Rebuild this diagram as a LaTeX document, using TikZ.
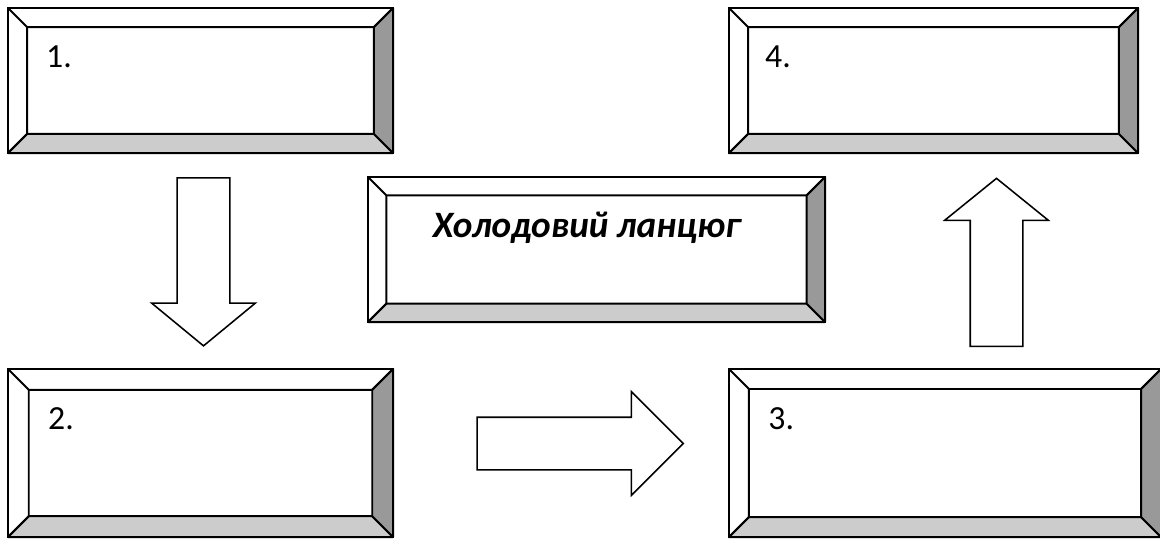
\documentclass[tikz,border=0pt]{standalone}
\usepackage{fontspec}
\setmainfont{Carlito}
\usetikzlibrary{shapes.arrows,calc}
\definecolor{bevlight}{HTML}{CCCCCC}
\definecolor{bevdark}{HTML}{999999}
\begin{document}
\begin{tikzpicture}
[x=0.025cm,y=-0.025cm,
panel/.style={draw,fill=white,line width=1.4pt,inner sep=0pt,outer sep=0pt},
num/.style={anchor=base west,inner sep=0pt,font=\fontsize{24}{28}\selectfont},
blockarrow/.style={draw,fill=white,line width=1.1pt,single arrow,inner xsep=0pt,
  inner ysep=0.6375cm,single arrow head extend=0.6375cm,minimum width=0pt}]
\useasboundingbox (0,0) rectangle (1160,541);
\node[panel,minimum width=9.625cm,minimum height=3.625cm] (p1) at (200.5,80.5) {};
\node[panel,minimum width=9.625cm,minimum height=4.2cm] (p2) at (200.5,453) {};
\node[panel,minimum width=10.8cm,minimum height=4.2cm] (p3) at (945,453) {};
\node[panel,minimum width=10.225cm,minimum height=3.625cm] (p4) at (933.5,80.5) {};
\node[panel,minimum width=11.425cm,minimum height=3.625cm] (title) at (596.5,249.5) {};

\foreach \b/\d in {p1/0.48cm,p2/0.52cm,p3/0.5cm,p4/0.48cm,title/0.46cm}{
  \coordinate (\b-nw) at ([shift={(\d,-\d)}]\b.north west);
  \coordinate (\b-ne) at ([shift={(-\d,-\d)}]\b.north east);
  \coordinate (\b-sw) at ([shift={(\d,\d)}]\b.south west);
  \coordinate (\b-se) at ([shift={(-\d,\d)}]\b.south east);
  \filldraw[line width=1.4pt,fill=bevlight,line join=round] (\b.south west) -- (\b.south east) -- (\b-se) -- (\b-sw) -- cycle;
  \filldraw[line width=1.4pt,fill=bevdark,line join=round] (\b.south east) -- (\b.north east) -- (\b-ne) -- (\b-se) -- cycle;
  \draw[line width=1.4pt,line join=round] (\b.north west) -- (\b-nw) -- (\b-ne) -- (\b.north east);
  \draw[line width=1.4pt,line join=round] (\b-nw) -- (\b-sw) -- (\b.south west);
  \draw[line width=1.4pt] (\b.south west) rectangle (\b.north east);
}

\node[num] (n1) at ([shift={(0.95cm,-1.48cm)}]p1.north west) {1.};
\node[num] (n2) at ([shift={(1cm,-1.5cm)}]p2.north west) {2.};
\node[num] (n3) at ([shift={(0.98cm,-1.5cm)}]p3.north west) {3.};
\node[num] (n4) at ([shift={(0.9cm,-1.48cm)}]p4.north west) {4.};
\node[anchor=base,inner sep=0pt,font=\fontsize{26.5}{32}\selectfont\bfseries\itshape] (tlabel)
  at ([shift={(-0.24cm,-1.52cm)}]title.north) {Холодовий ланцюг};

\node[blockarrow,minimum height=4.2cm,single arrow tip angle=101,rotate=-90] (down) at (203.5,251) {};
\node[blockarrow,minimum height=5.15cm,single arrow tip angle=90] (right) at (567,443.5) {};
\node[blockarrow,minimum height=4.2cm,single arrow tip angle=102,rotate=90] (up) at (996.5,273) {};
\end{tikzpicture}
\end{document}
